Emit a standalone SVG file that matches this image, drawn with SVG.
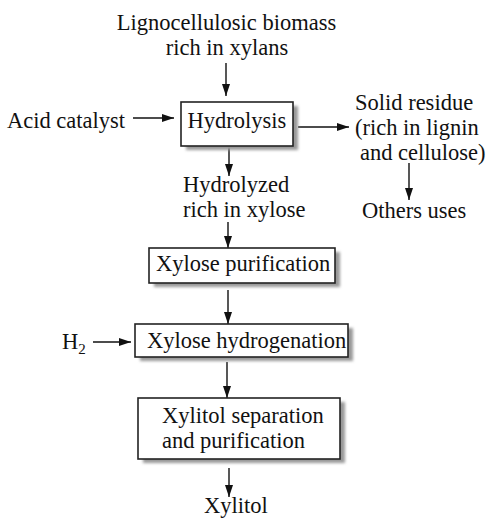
<svg xmlns="http://www.w3.org/2000/svg" width="490" height="520" viewBox="0 0 490 520">
<style>
text{font-family:"Liberation Serif","Times New Roman",serif;font-size:22.5px;fill:#111}
.box{fill:#fff;stroke:#222;stroke-width:1.6}
.sh{fill:#999;filter:url(#blur)}
.ln{stroke:#111;stroke-width:1.4;fill:none;marker-end:url(#ah)}
</style>
<defs>
<filter id="blur" x="-10%" y="-20%" width="120%" height="140%"><feGaussianBlur stdDeviation="1.5"/></filter>
<marker id="ah" viewBox="0 0 12 8" refX="12" refY="4" markerWidth="12" markerHeight="8" markerUnits="userSpaceOnUse" orient="auto">
<path d="M0,0 L12,4 L0,8 z" fill="#111"/>
</marker>
</defs>
<rect width="490" height="520" fill="#fff"/>
<g id="connectors">
<line class="ln" x1="226" y1="63" x2="226" y2="96"/>
<line class="ln" x1="133" y1="118" x2="174" y2="118"/>
<line class="ln" x1="298" y1="127" x2="349" y2="127"/>
<line class="ln" x1="229" y1="147" x2="229" y2="176"/>
<line class="ln" x1="409" y1="163" x2="409" y2="200"/>
<line class="ln" x1="228" y1="222" x2="228" y2="248"/>
<line class="ln" x1="228" y1="290" x2="228" y2="324"/>
<line class="ln" x1="93" y1="342" x2="131" y2="342"/>
<line class="ln" x1="227" y1="362" x2="227" y2="398"/>
<line class="ln" x1="229" y1="468" x2="229" y2="497"/>
</g>
<g id="feedstock">
<text x="226.5" y="30" text-anchor="middle">Lignocellulosic biomass</text>
<text x="227" y="55" text-anchor="middle">rich in xylans</text>
</g>
<g id="acid">
<text x="7" y="128">Acid catalyst</text>
</g>
<g id="hydrolysis">
<rect class="sh" x="186" y="106" width="112" height="44"/>
<rect class="box" x="181" y="102" width="112" height="44"/>
<text x="237" y="128" text-anchor="middle">Hydrolysis</text>
</g>
<g id="residue">
<text x="355" y="110">Solid residue</text>
<text x="355" y="135">(rich in lignin</text>
<text x="360" y="160">and cellulose)</text>
</g>
<g id="others">
<text x="362" y="218">Others uses</text>
</g>
<g id="hydrolyzed">
<text x="183" y="192">Hydrolyzed</text>
<text x="183" y="217">rich in xylose</text>
</g>
<g id="purification">
<rect class="sh" x="154" y="252" width="186" height="35"/>
<rect class="box" x="149" y="248" width="186" height="35"/>
<text x="156" y="271">Xylose purification</text>
</g>
<g id="h2">
<text x="62" y="349">H<tspan font-size="15" dy="5">2</tspan></text>
</g>
<g id="hydrogenation">
<rect class="sh" x="140" y="328" width="213" height="33"/>
<rect class="box" x="135" y="324" width="213" height="33"/>
<text x="147" y="348">Xylose hydrogenation</text>
</g>
<g id="separation">
<rect class="sh" x="143" y="402" width="202" height="61"/>
<rect class="box" x="138" y="398" width="202" height="61"/>
<text x="162" y="423">Xylitol separation</text>
<text x="162" y="448">and purification</text>
</g>
<g id="xylitol">
<text x="204" y="513">Xylitol</text>
</g>
</svg>
